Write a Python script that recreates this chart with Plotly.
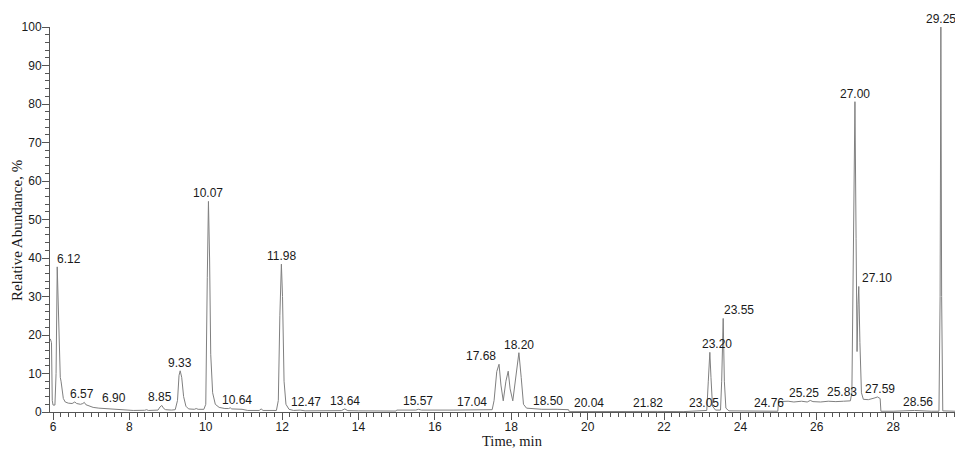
import plotly.graph_objects as go

# Total ion chromatogram: retention time (min) vs relative abundance (%)
time_min = [
    5.93, 5.96, 5.98, 6.00, 6.05, 6.08, 6.11, 6.13, 6.16, 6.19, 6.21, 6.24, 6.27, 6.32,
    6.40, 6.50, 6.57, 6.62, 6.72, 6.78, 6.82, 6.86, 6.95, 7.05, 7.20, 7.40, 7.60, 7.80,
    7.90, 8.10, 8.40, 8.45, 8.50, 8.75, 8.80, 8.85, 8.90, 8.95, 9.10, 9.20, 9.26, 9.30,
    9.33, 9.37, 9.42, 9.48, 9.55, 9.70, 9.75, 9.80, 9.95, 10.00, 10.04, 10.07, 10.10,
    10.13, 10.18, 10.25, 10.35, 10.50, 10.60, 10.64, 10.68, 10.80, 10.95, 11.10, 11.40,
    11.45, 11.50, 11.85, 11.90, 11.94, 11.98, 12.01, 12.05, 12.10, 12.18, 12.30, 12.47,
    12.60, 13.00, 13.55, 13.64, 13.72, 14.00, 14.50, 14.98, 15.00, 15.50, 15.57, 15.65,
    16.50, 17.04, 17.50, 17.55, 17.62, 17.68, 17.73, 17.79, 17.86, 17.92, 17.97, 18.04,
    18.12, 18.20, 18.26, 18.32, 18.40, 18.50, 18.80, 19.20, 19.50, 19.52, 20.04, 21.00,
    21.82, 22.50, 23.05, 23.12, 23.16, 23.20, 23.23, 23.27, 23.35, 23.48, 23.51, 23.55,
    23.58, 23.62, 23.70, 24.76, 24.98, 25.00, 25.10, 25.25, 25.40, 25.60, 25.75, 25.83,
    25.90, 26.10, 26.30, 26.50, 26.70, 26.88, 26.92, 26.96, 27.00, 27.03, 27.055, 27.08,
    27.10, 27.13, 27.17, 27.22, 27.35, 27.50, 27.59, 27.66, 27.68, 28.00, 28.56, 29.00,
    29.20, 29.23, 29.25, 29.27, 29.30, 29.62,
]
abundance = [
    19.0, 18.0, 3.0, 1.8, 1.8, 10.0, 37.7, 30.0, 16.0, 9.0, 8.0, 6.0, 3.5, 2.6,
    2.3, 2.2, 2.6, 2.2, 2.0, 2.2, 2.5, 1.9, 1.5, 1.2, 1.0, 0.9, 0.8, 0.7,
    0.5, 0.4, 0.45, 0.6, 0.4, 0.5, 1.3, 1.7, 0.9, 0.6, 0.5, 0.6, 3.0, 9.5,
    10.7, 9.0, 4.0, 1.5, 0.8, 0.7, 0.9, 0.7, 0.7, 2.0, 35.0, 54.7, 40.0,
    15.0, 5.0, 2.0, 1.2, 0.9, 0.9, 1.1, 0.8, 0.8, 0.7, 0.4, 0.4,
    0.8, 0.4, 0.4, 3.0, 25.0, 38.4, 30.0, 8.0, 2.0, 0.7, 0.4, 0.5,
    0.3, 0.3, 0.35, 0.8, 0.35, 0.3, 0.3, 0.25, 0.5, 0.5, 0.7, 0.5,
    0.5, 0.5, 0.6, 3.0, 10.5, 12.4, 7.0, 2.9, 8.0, 10.6, 6.0, 2.9,
    9.0, 15.4, 9.0, 2.0, 1.0, 0.9, 0.7, 0.7, 0.6, 0.1, 0.15, 0.1,
    0.15, 0.1, 0.2, 0.4, 8.0, 15.5, 9.0, 1.5, 0.5, 0.5, 8.0, 24.3,
    8.0, 1.0, 0.3, 0.2, 0.2, 2.7, 2.8, 2.8, 2.6, 2.8, 2.6, 3.0,
    2.7, 2.6, 2.8, 2.7, 2.8, 2.9, 5.0, 40.0, 80.6, 45.0, 15.7, 28.0,
    32.6, 18.0, 5.0, 3.3, 3.2, 3.6, 3.9, 3.5, 0.2, 0.2, 0.4, 0.2,
    0.2, 30.0, 100.0, 30.0, 0.3, 0.2,
]

# Labelled peaks (retention time) and their heights
peak_times = [6.12, 6.57, 6.90, 8.85, 9.33, 10.07, 10.64, 11.98, 12.47, 13.64, 15.57,
              17.04, 17.68, 18.20, 18.50, 20.04, 21.82, 23.05, 23.20, 23.55, 24.76,
              25.25, 25.83, 27.00, 27.10, 27.59, 28.56, 29.25]
peak_heights = [37.7, 2.6, 1.6, 1.7, 10.7, 54.7, 1.1, 38.4, 0.5, 0.8, 0.7,
                0.5, 12.4, 15.4, 0.9, 0.15, 0.15, 0.2, 15.5, 24.3, 0.2,
                2.8, 3.0, 80.6, 32.6, 3.9, 0.4, 100.0]
# horizontal nudges (px) that keep neighbouring labels apart
label_dx = [11, 7, 27, -2, 0, 0, 7, 0, 6, 0, 0,
            -3, -18, 0, 18, 0, -9, 0, 7, 16, 0,
            16, 32, 0, 18, 3, 3, 0]

text_font = "Arial, Liberation Sans, sans-serif"
serif_font = "Times New Roman, Liberation Serif, serif"

fig = go.Figure()
fig.add_trace(go.Scatter(
    x=time_min, y=abundance, mode="lines",
    line=dict(color="#808080", width=1),
    hoverinfo="skip", showlegend=False, cliponaxis=False,
))

for t, h, dx in zip(peak_times, peak_heights, label_dx):
    fig.add_annotation(
        x=t, y=h, text=f"{t:.2f}", showarrow=False,
        xanchor="center", yanchor="bottom", xshift=dx, yshift=-1,
        font=dict(family=text_font, size=12, color="#1a1a1a"),
    )

fig.add_annotation(
    xref="paper", yref="paper", x=0, y=0.47, xshift=-33,
    text="Relative Abundance, %", textangle=-90, showarrow=False,
    xanchor="center", yanchor="middle",
    font=dict(family=serif_font, size=15, color="#1a1a1a"),
)
fig.add_annotation(
    xref="paper", yref="paper", x=0.5105, y=0, yshift=-38,
    text="Time, min", showarrow=False, borderpad=0,
    xanchor="center", yanchor="bottom",
    font=dict(family=serif_font, size=14.5, color="#1a1a1a"),
)

axis_common = dict(
    showgrid=False, zeroline=False, showline=True, linecolor="#555555", linewidth=1,
    ticks="outside", tickcolor="#555555", ticklen=7, tickwidth=1,
    tickfont=dict(family=text_font, size=12, color="#1a1a1a"),
)
fig.update_xaxes(
    range=[5.921, 29.62], dtick=2, tick0=0, ticklabelstandoff=-3,
    minor=dict(dtick=0.2, ticks="outside", ticklen=4, tickcolor="#555555"),
    **axis_common,
)
fig.update_yaxes(
    range=[0, 100], dtick=10, tick0=0, ticklabelstandoff=-2,
    minor=dict(dtick=2, ticks="outside", ticklen=4, tickcolor="#555555"),
    **axis_common,
)

fig.update_layout(
    width=955, height=450,
    margin=dict(l=50, r=0, t=27, b=38),
    plot_bgcolor="white", paper_bgcolor="white",
)

fig.write_html("out.html")
